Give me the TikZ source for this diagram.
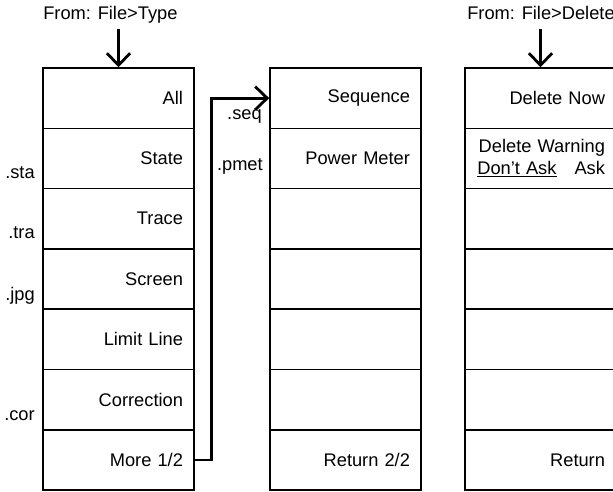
\documentclass[tikz,border=0pt]{standalone}
\usepackage{fontspec}
\setmainfont{Liberation Sans}
\usepackage{tikz}
\usetikzlibrary{arrows.meta, positioning}
\newcommand{\keyfont}{\fontsize{13}{15.5}\selectfont}
\tikzset{
  softkey/.style={
    rectangle, draw=black, line width=1.1pt,
    minimum width=3.775cm, minimum height=1.5075cm,
    inner xsep=0.275cm, inner ysep=0pt,
    text width=3.225cm, align=right,
    font=\keyfont
  },
  ext/.style={font=\keyfont, inner sep=0pt, anchor=base east},
  lbl/.style={font=\keyfont, inner sep=0pt, anchor=base west},
  arr/.style={-{Straight Barb[length=0.3cm, width=0.58cm]}, line width=2pt}
}

\begin{document}
\begin{tikzpicture}
  \useasboundingbox (0,0) rectangle (15.325,-12.3);

  % File > Type menu
  \node[softkey] (all)    at (2.9625, -2.454)  {All};
  \node[softkey] (state)  at (2.9625, -3.961)  {State};
  \node[softkey] (trace)  at (2.9625, -5.469)  {Trace};
  \node[softkey] (screen) at (2.9625, -6.976)  {Screen};
  \node[softkey] (limit)  at (2.9625, -8.484)  {Limit Line};
  \node[softkey] (corr)   at (2.9625, -9.991)  {Correction};
  \node[softkey] (more)   at (2.9625, -11.499) {More 1/2};

  \node[ext] (sta) at (0.875, -4.45)  {.sta};
  \node[ext] (tra) at (0.875, -5.95)  {.tra};
  \node[ext] (jpg) at (0.875, -7.5)   {.jpg};
  \node[ext] (cor) at (0.875, -10.5)  {.cor};

  % second page
  \node[softkey] (seq)    at (8.6375, -2.454)  {Sequence};
  \node[softkey] (pmeter) at (8.6375, -3.961)  {Power Meter};
  \node[softkey] (blankA) at (8.6375, -5.469)  {};
  \node[softkey] (blankB) at (8.6375, -6.976)  {};
  \node[softkey] (blankC) at (8.6375, -8.484)  {};
  \node[softkey] (blankD) at (8.6375, -9.991)  {};
  \node[softkey] (ret2)   at (8.6375, -11.499) {Return 2/2};

  \node[ext] (seqext)  at (6.55, -3.0)   {.seq};
  \node[ext] (pmetext) at (6.575, -4.25) {.pmet};

  % File > Delete menu
  \node[softkey] (delnow)  at (13.5125, -2.454)  {Delete Now};
  \node[softkey] (delwarn) at (13.5125, -3.961)
    {Delete Warning\\\underline{Don’t Ask}\hspace{0.45cm}Ask};
  \node[softkey] (delE)    at (13.5125, -5.469)  {};
  \node[softkey] (delF)    at (13.5125, -6.976)  {};
  \node[softkey] (delG)    at (13.5125, -8.484)  {};
  \node[softkey] (delH)    at (13.5125, -9.991)  {};
  \node[softkey] (delret)  at (13.5125, -11.499) {Return};

  % entry points
  \node[lbl] (fromtype) at (1.075, -0.5)  {From: File>Type};
  \node[lbl] (fromdel)  at (11.675, -0.5) {From: File>Delete};
  \coordinate (typein) at (2.9625, -0.73);
  \coordinate (delin)  at (13.5125, -0.73);

  \draw[arr] (typein) -- (all.north);
  \draw[arr] (delin) -- (delnow.north);
  \draw[arr] (more.east) -- ++(0.425,0) |- (seq.west);
\end{tikzpicture}
\end{document}
